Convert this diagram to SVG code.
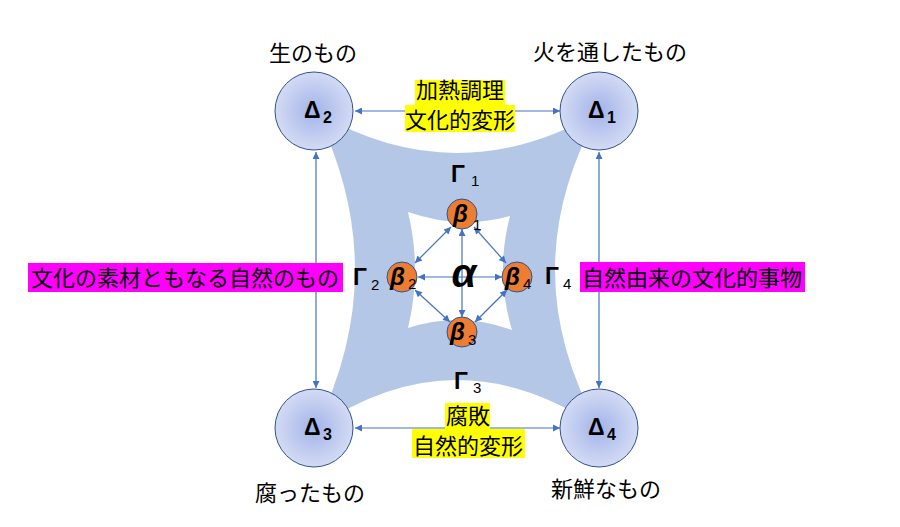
<svg xmlns="http://www.w3.org/2000/svg" width="900" height="527" viewBox="0 0 900 527">
<defs>
<radialGradient id="dg" cx="0.5" cy="0.5" r="0.5">
<stop offset="0" stop-color="#A3B3EA"/>
<stop offset="1" stop-color="#D3DBF3"/>
</radialGradient>
<marker id="ah" viewBox="0 0 10 10" refX="10" refY="5" markerWidth="9" markerHeight="7" orient="auto-start-reverse" markerUnits="userSpaceOnUse">
<path d="M0,0 L10,5 L0,10 Z" fill="#4472C4"/>
</marker>
<style>
.jp{font-family:"Noto Sans CJK JP","Noto Sans CJK SC",sans-serif;font-size:22px;fill:#000}
.jy{font-family:"Noto Sans CJK JP","Noto Sans CJK SC",sans-serif;font-size:22px;fill:#000;line-height:1}
.big{font-family:"Liberation Sans","DejaVu Sans",sans-serif;font-weight:bold;font-size:23px;fill:#000}
.sub{font-family:"Liberation Sans","DejaVu Sans",sans-serif;font-size:15px;fill:#000}
.subb{font-family:"Liberation Sans","DejaVu Sans",sans-serif;font-weight:bold;font-size:16px;fill:#000}
.gr{font-family:"Liberation Sans","DejaVu Sans",sans-serif;font-weight:bold;font-style:italic;font-size:24px;fill:#000}
.dc{fill:url(#dg);stroke:#2F528F;stroke-width:1}
.bc{fill:#ED7D31;stroke:#2F528F;stroke-width:1}
.cn{stroke:#4472C4;stroke-width:1.2;fill:none;marker-start:url(#ah);marker-end:url(#ah)}
.yl{fill:#FFFF00}
.mg{fill:#FF00FF}
</style>
</defs>
<rect width="900" height="527" fill="#FFFFFF"/>
<path id="band" fill="#B4C7E7" fill-rule="evenodd" d="M316,112 Q457,194 599,112 Q511,270 599,428 Q457,332 316,428 Q394,270 316,112 Z M408,212 Q460,230 510,216 Q495,273 512,330 Q460,311 408,328 Q422,270 408,212 Z"/>
<g id="connectors">
<line class="cn" x1="355" y1="111" x2="560" y2="111"/>
<line class="cn" x1="355" y1="428" x2="560" y2="428"/>
<line class="cn" x1="316" y1="152" x2="316" y2="388"/>
<line class="cn" x1="599" y1="152" x2="599" y2="388"/>
<line class="cn" x1="462" y1="229" x2="462" y2="317"/>
<line class="cn" x1="418" y1="277" x2="502" y2="277"/>
<line class="cn" x1="451" y1="227" x2="415" y2="263"/>
<line class="cn" x1="474" y1="227" x2="506" y2="263"/>
<line class="cn" x1="415" y1="290" x2="450" y2="322"/>
<line class="cn" x1="507" y1="290" x2="475" y2="322"/>
</g>
<g id="delta2"><circle class="dc" cx="314" cy="111" r="39"/><text class="big" x="304" y="118">Δ</text><text class="subb" x="323" y="123">2</text></g>
<g id="delta1"><circle class="dc" cx="599" cy="111" r="39"/><text class="big" x="588" y="118">Δ</text><text class="subb" x="607" y="123">1</text></g>
<g id="delta3"><circle class="dc" cx="314" cy="428" r="39"/><text class="big" x="304" y="435">Δ</text><text class="subb" x="323" y="440">3</text></g>
<g id="delta4"><circle class="dc" cx="599" cy="428" r="39"/><text class="big" x="588" y="435">Δ</text><text class="subb" x="607" y="440">4</text></g>
<g id="beta1"><circle class="bc" cx="462" cy="214" r="15"/><text class="gr" x="453" y="222">β</text><text class="sub" x="473" y="230">1</text></g>
<g id="beta2"><circle class="bc" cx="402" cy="277" r="15"/><text class="gr" x="390" y="285">β</text><text class="sub" x="408" y="289">2</text></g>
<g id="beta4"><circle class="bc" cx="517" cy="277" r="15"/><text class="gr" x="505" y="285">β</text><text class="sub" x="523" y="289">4</text></g>
<g id="beta3"><circle class="bc" cx="462" cy="332" r="15"/><text class="gr" x="450" y="340">β</text><text class="sub" x="468" y="345">3</text></g>
<g id="alpha"><text x="464" y="287" text-anchor="middle" style="font-family:'Liberation Sans','DejaVu Sans',sans-serif;font-weight:bold;font-style:italic;font-size:40px;fill:#000">α</text></g>
<g id="gamma1"><text class="big" x="451" y="182">Γ</text><text class="sub" x="471" y="186">1</text></g>
<g id="gamma2"><text class="big" x="353" y="285">Γ</text><text class="sub" x="371" y="290">2</text></g>
<g id="gamma3"><text class="big" x="454" y="389">Γ</text><text class="sub" x="473" y="393">3</text></g>
<g id="gamma4"><text class="big" x="545" y="284">Γ</text><text class="sub" x="563" y="289">4</text></g>
<g id="label-raw"><text class="jp" x="313" y="61" text-anchor="middle">生のもの</text></g>
<g id="label-cooked"><text class="jp" x="610" y="60" text-anchor="middle">火を通したもの</text></g>
<g id="label-rotten"><text class="jp" x="310" y="501" text-anchor="middle">腐ったもの</text></g>
<g id="label-fresh"><text class="jp" x="606" y="497" text-anchor="middle">新鮮なもの</text></g>
<g id="label-cooking">
<rect class="yl" x="415" y="80" width="90" height="25"/>
<rect class="yl" x="405" y="105" width="110" height="27"/>
<text class="jy" x="460" y="98" text-anchor="middle">加熱調理</text>
<text class="jy" x="460" y="128" text-anchor="middle">文化的変形</text>
</g>
<g id="label-decay">
<rect class="yl" x="445" y="403" width="45" height="26"/>
<rect class="yl" x="412" y="429" width="113" height="29"/>
<text class="jy" x="468" y="424" text-anchor="middle">腐敗</text>
<text class="jy" x="468" y="454" text-anchor="middle">自然的変形</text>
</g>
<g id="label-left">
<rect class="mg" x="28" y="263" width="315" height="29"/>
<text class="jp" x="185" y="286" text-anchor="middle">文化の素材ともなる自然のもの</text>
</g>
<g id="label-right">
<rect class="mg" x="580" y="262" width="225" height="30"/>
<text class="jp" x="692" y="286" text-anchor="middle">自然由来の文化的事物</text>
</g>
</svg>
